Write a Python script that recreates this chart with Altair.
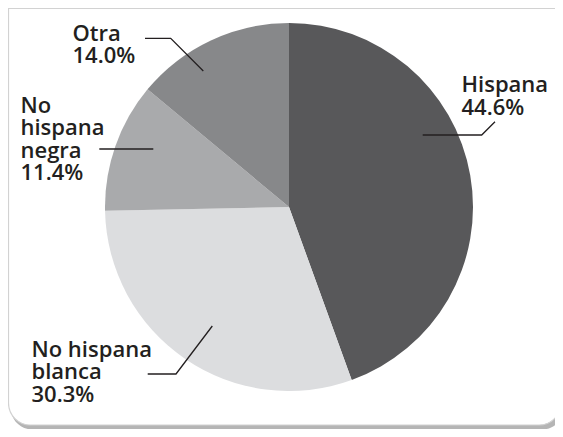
import altair as alt
import pandas as pd

# ---- data ----
categories = ["Hispana", "No hispana blanca", "No hispana negra", "Otra"]
shares = [44.6, 30.3, 11.4, 14.0]
label_names = ["Hispana", "No hispana\nblanca", "No\nhispana\nnegra", "Otra"]

# ---- style / layout (pixels in the view) ----
colors = ["#58585a", "#dcdddf", "#a9aaac", "#87888a"]
PIE_CX, PIE_CY, PIE_R = 281, 199, 184
FONT = "Open Sans"
label_pos = {  # x (left), y (first baseline)
    "Hispana": (453.5, 84.3),
    "No hispana blanca": (23.5, 348.7),
    "No hispana negra": (12.5, 104.7),
    "Otra": (64.5, 32.7),
}
leader_pts = {
    "Hispana": [(487, 113.7), (473.7, 127), (414.7, 127)],
    "No hispana blanca": [(139.7, 366), (168, 366), (204.3, 318)],
    "No hispana negra": [(91.3, 141), (145.3, 141)],
    "Otra": [(137, 30.3), (162.7, 30.3), (195.3, 63)],
}

pie_df = pd.DataFrame({"cat": categories, "share": shares, "idx": range(len(categories))})
lab_df = pd.DataFrame({
    "cat": categories,
    "text": [f"{n}\n{v:.1f}%" for n, v in zip(label_names, shares)],
    "x": [label_pos[c][0] for c in categories],
    "y": [label_pos[c][1] for c in categories],
})
lead_rows = []
for c in categories:
    for k, (px, py) in enumerate(leader_pts[c]):
        lead_rows.append({"cat": c, "k": k, "x": px, "y": py})
lead_df = pd.DataFrame(lead_rows)

one = alt.Data(values=[{"a": 1}])

shadow = alt.Chart(one).mark_rect(
    color="#b5b5b5", cornerRadiusBottomLeft=22, cornerRadiusBottomRight=22
).encode(x=alt.value(2.5), x2=alt.value(556), y=alt.value(4), y2=alt.value(421.5))

frame = alt.Chart(one).mark_rect(
    fill="white", stroke="#d2d2d2", strokeWidth=1.2,
    cornerRadiusBottomLeft=22, cornerRadiusBottomRight=22
).encode(x=alt.value(0.5), x2=alt.value(553), y=alt.value(0.5), y2=alt.value(417))

pie = alt.Chart(pie_df).mark_arc(radius=PIE_R).encode(
    theta=alt.Theta("share:Q", stack=True),
    color=alt.Color("cat:N", scale=alt.Scale(domain=categories, range=colors), legend=None),
    order=alt.Order("idx:Q"),
    x=alt.value(PIE_CX),
    y=alt.value(PIE_CY),
)

leaders = alt.Chart(lead_df).mark_line(color="#231f20", strokeWidth=1.3).encode(
    x=alt.X("x:Q", scale=None, axis=None),
    y=alt.Y("y:Q", scale=None, axis=None),
    detail="cat:N",
    order="k:Q",
)

labels = alt.Chart(lab_df).mark_text(
    align="left", baseline="alphabetic", font=FONT, fontSize=22, fontWeight=600,
    color="#231f20", lineBreak="\n", lineHeight=22.5
).encode(
    x=alt.X("x:Q", scale=None, axis=None),
    y=alt.Y("y:Q", scale=None, axis=None),
    text="text:N",
)

chart = alt.layer(shadow, frame, pie, leaders, labels).properties(
    width=547, height=421, padding=0, autosize="none"
).configure_view(stroke=None)

chart.save("out.html", embed_options={"renderer": "svg", "actions": False})
